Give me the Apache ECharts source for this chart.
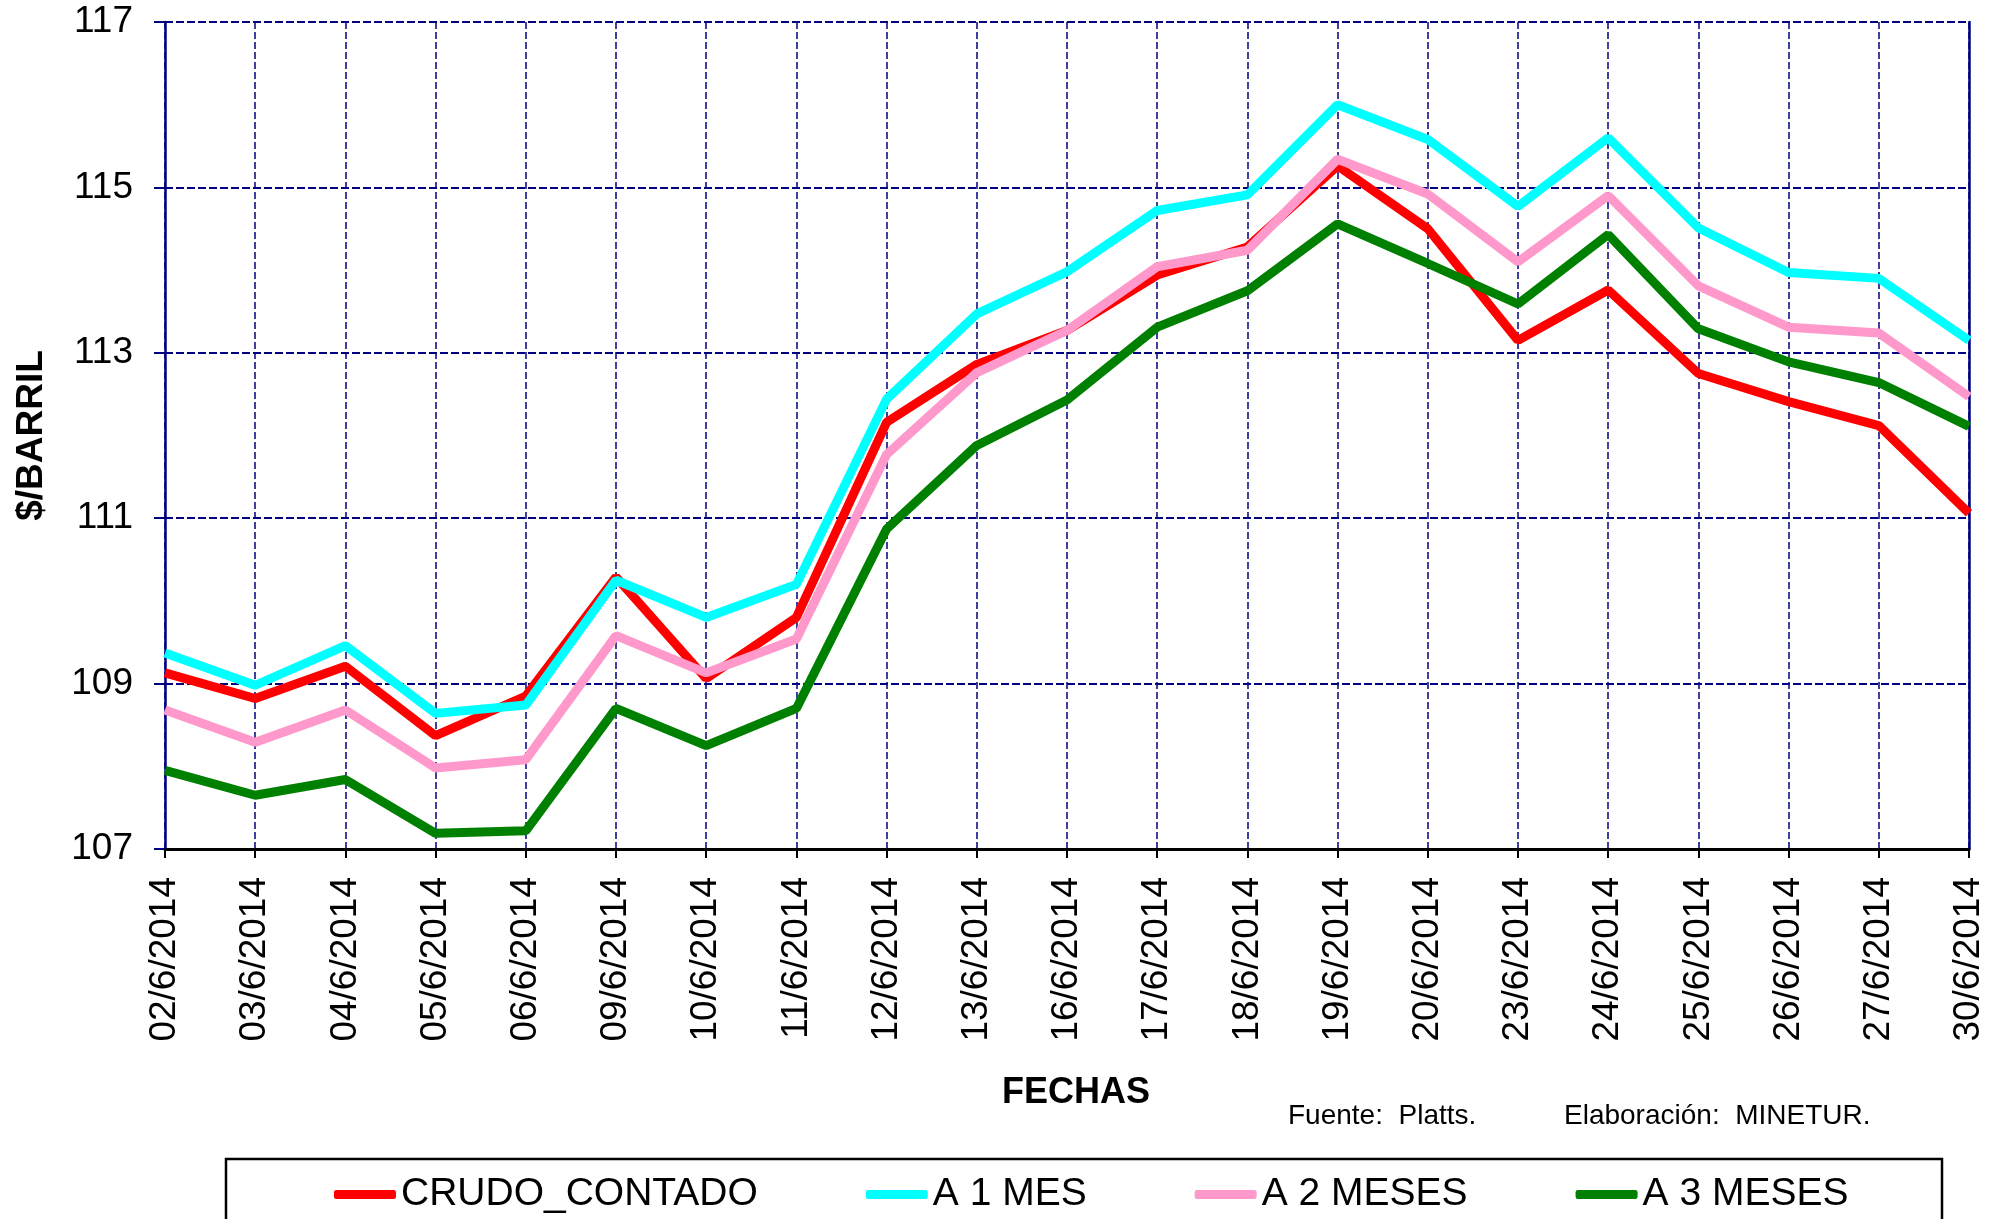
<!DOCTYPE html>
<html>
<head>
<meta charset="utf-8">
<script src="https://cdn.jsdelivr.net/npm/echarts@6/dist/echarts.min.js"></script>
<style>
  * { margin: 0; padding: 0; }
  html, body { width: 2004px; height: 1219px; background: #fff; }
  #main { width: 2004px; height: 1219px; }
</style>
</head>
<body>
<div id="main"></div>
<script>
// fechas (eje X)
var fechas = ['02/6/2014','03/6/2014','04/6/2014','05/6/2014','06/6/2014','09/6/2014','10/6/2014',
  '11/6/2014','12/6/2014','13/6/2014','16/6/2014','17/6/2014','18/6/2014','19/6/2014','20/6/2014',
  '23/6/2014','24/6/2014','25/6/2014','26/6/2014','27/6/2014','30/6/2014'];

// $/barril
var crudoContado = [109.13,108.82,109.21,108.37,108.85,110.29,109.06,109.80,112.16,112.86,113.27,
  113.94,114.28,115.26,114.50,113.15,113.76,112.75,112.41,112.12,111.06];
var a1Mes = [109.37,108.98,109.46,108.64,108.74,110.25,109.80,110.20,112.44,113.47,113.98,
  114.72,114.91,116.00,115.58,114.77,115.60,114.51,113.97,113.90,113.15];
var a2Meses = [108.68,108.29,108.68,107.98,108.08,109.58,109.13,109.54,111.77,112.76,113.27,
  114.04,114.24,115.34,114.92,114.10,114.90,113.81,113.31,113.24,112.47];
var a3Meses = [107.95,107.65,107.84,107.19,107.22,108.70,108.25,108.70,110.87,111.88,112.43,
  113.31,113.75,114.56,114.08,113.59,114.43,113.29,112.89,112.64,112.11];

var nombres = ['CRUDO_CONTADO', 'A 1 MES', 'A 2 MESES', 'A 3 MESES'];
var colores = ['#FF0000', '#00FFFF', '#FF99CC', '#008000'];

var fuente = "'Liberation Sans', Arial, sans-serif";
var navy = '#000080';

function serie(nombre, datos) {
  return {
    name: nombre,
    type: 'line',
    data: datos,
    symbol: 'none',
    lineStyle: { width: 9 },
    emphasis: { disabled: true }
  };
}

var chart = echarts.init(document.getElementById('main'));
chart.setOption({
  animation: false,
  color: colores,
  textStyle: { fontFamily: fuente },
  grid: { left: 165, right: 35, top: 22, bottom: 370, containLabel: false },
  legend: {
    data: nombres,
    left: 334,
    top: 1175,
    padding: 0,
    icon: 'roundRect',
    itemWidth: 62,
    itemHeight: 9,
    itemGap: 108,
    textStyle: { fontSize: 39, color: '#000', fontFamily: fuente }
  },
  xAxis: {
    type: 'category',
    data: fechas,
    boundaryGap: false,
    name: 'FECHAS',
    nameLocation: 'middle',
    nameGap: 226,
    nameTextStyle: { fontSize: 36, fontWeight: 'bold', color: '#000', fontFamily: fuente, padding: [0, 0, 0, 18] },
    axisLine: { lineStyle: { color: '#000', width: 3 } },
    axisTick: { show: true, length: 9, lineStyle: { color: '#000', width: 2 } },
    axisLabel: { rotate: 90, margin: 28, fontSize: 37, color: '#000', fontFamily: fuente, interval: 0 },
    splitLine: { show: true, lineStyle: { color: navy, width: 1.5, type: [7, 3] } }
  },
  yAxis: [{
    type: 'value',
    min: 107,
    max: 117,
    interval: 2,
    name: '$/BARRIL',
    nameLocation: 'middle',
    nameRotate: 90,
    nameGap: 115,
    nameTextStyle: { fontSize: 37, fontWeight: 'bold', color: '#000', fontFamily: fuente },
    axisLine: { show: true, lineStyle: { color: navy, width: 2.5 } },
    axisTick: { show: true, length: 11, lineStyle: { color: navy, width: 2 } },
    axisLabel: { margin: 32, fontSize: 37, color: '#000', fontFamily: fuente },
    splitLine: { show: true, lineStyle: { color: navy, width: 2, type: [8, 3] } }
  }, {
    type: 'value',
    position: 'right',
    min: 107,
    max: 117,
    interval: 2,
    axisLine: { show: true, lineStyle: { color: navy, width: 2.5 } },
    axisTick: { show: false },
    axisLabel: { show: false },
    splitLine: { show: false }
  }],
  graphic: [
    {
      type: 'rect',
      shape: { x: 226, y: 1159, width: 1716, height: 80 },
      style: { fill: 'none', stroke: '#000', lineWidth: 2.5 },
      silent: true
    },
    {
      type: 'text',
      left: 1288,
      top: 1102,
      style: { text: 'Fuente:  Platts.', fontSize: 28, fill: '#000', fontFamily: fuente }
    },
    {
      type: 'text',
      left: 1564,
      top: 1102,
      style: { text: 'Elaboración:  MINETUR.', fontSize: 28, fill: '#000', fontFamily: fuente }
    }
  ],
  series: [
    serie(nombres[0], crudoContado),
    serie(nombres[1], a1Mes),
    serie(nombres[2], a2Meses),
    serie(nombres[3], a3Meses)
  ]
});
</script>
</body>
</html>
